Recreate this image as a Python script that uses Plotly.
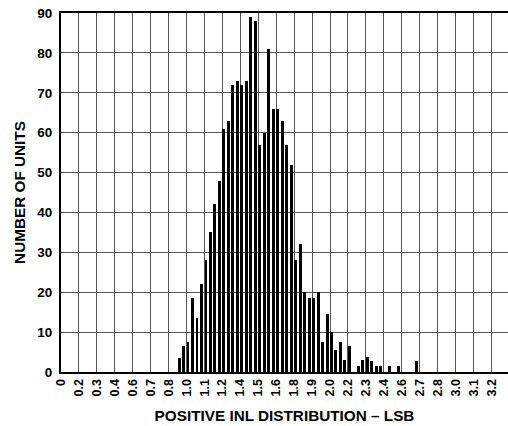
import plotly.graph_objects as go

# Bin start (LSB) and number of units per bin
bin_start = [0.867, 0.900, 0.933, 0.967, 1.000, 1.033, 1.067, 1.100, 1.133, 1.167,
             1.200, 1.233, 1.267, 1.300, 1.333, 1.367, 1.400, 1.433, 1.467, 1.500,
             1.533, 1.567, 1.600, 1.633, 1.667, 1.700, 1.733, 1.767, 1.800, 1.833,
             1.867, 1.900, 1.933, 1.967, 2.000, 2.033, 2.067, 2.100, 2.133,
             2.200, 2.233, 2.267, 2.300, 2.333, 2.367, 2.433, 2.500, 2.633]
units = [3.5, 6.5, 7.5, 18.5, 13.5, 22, 28, 35, 42, 48,
         61, 63, 72, 73, 72, 73, 89, 88, 57, 60,
         81, 66, 66, 63, 57, 52, 28, 32, 20, 18.5,
         18.5, 20, 7.5, 14.5, 10, 5.5, 7.5, 3, 6.5,
         1.5, 3, 3.7, 2.8, 1.6, 1.6, 1.6, 1.6, 2.8]

tick_vals = [0, 0.1333, 0.2667, 0.4, 0.5333, 0.6667, 0.8, 0.9333, 1.0667, 1.2,
             1.3333, 1.4667, 1.6, 1.7333, 1.8667, 2.0, 2.1333, 2.2667, 2.4, 2.5333,
             2.6667, 2.8, 2.9333, 3.0667, 3.2]
tick_text = ["0", "0.2", "0.3", "0.4", "0.6", "0.7", "0.8", "1.0", "1.1", "1.2",
             "1.4", "1.5", "1.6", "1.8", "1.9", "2.0", "2.2", "2.3", "2.4", "2.6",
             "2.7", "2.8", "3.0", "3.1", "3.2"]
y_ticks = [0, 10, 20, 30, 40, 50, 60, 70, 80, 90]

FONT = "Liberation Sans, Arial, sans-serif"

fig = go.Figure()
fig.add_trace(go.Bar(
    x=bin_start, y=units, offset=0, width=0.022,
    marker=dict(color="black", line=dict(width=0)),
))

fig.update_layout(
    width=508, height=426,
    margin=dict(l=61, r=0, t=13, b=54),
    paper_bgcolor="white", plot_bgcolor="white",
    showlegend=False,
    font=dict(family=FONT, color="black"),
    bargap=0,
)
fig.update_xaxes(
    range=[0, 3.323],
    tickmode="array", tickvals=tick_vals, ticktext=tick_text,
    tickangle=-90,
    tickfont=dict(family=FONT, size=12.5, weight="bold", color="black"),
    showgrid=True, gridcolor="#555555", gridwidth=1,
    showline=True, linecolor="black", linewidth=2, mirror=True,
    ticks="", zeroline=False,
    title=dict(text="POSITIVE INL DISTRIBUTION – LSB",
               font=dict(family=FONT, size=15.3, weight="bold", color="black"),
               standoff=15),
)
fig.update_yaxes(
    range=[0, 90],
    tickmode="array", tickvals=y_ticks,
    tickfont=dict(family=FONT, size=13.5, weight="bold", color="black"),
    showgrid=True, gridcolor="#555555", gridwidth=1,
    showline=True, linecolor="black", linewidth=2, mirror=False,
    ticks="", zeroline=False, ticklabelstandoff=4,
    title=dict(text="NUMBER OF UNITS",
               font=dict(family=FONT, size=15.3, weight="bold", color="black"),
               standoff=8),
)

fig.write_html("out.html",
               config={"displayModeBar": False},
               post_script="document.body.style.margin='0';document.body.style.overflow='hidden';")
